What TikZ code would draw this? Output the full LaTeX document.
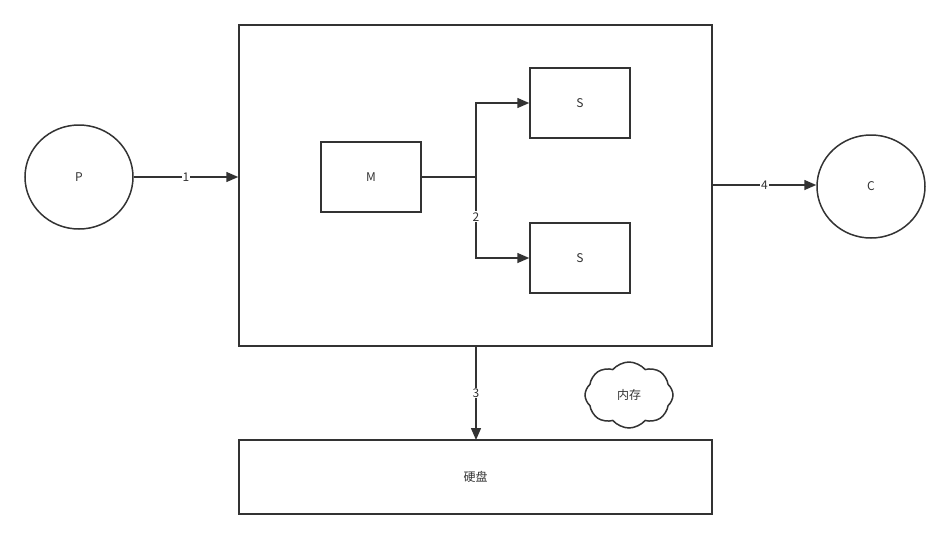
\documentclass[tikz,border=0pt]{standalone}
\usepackage{fontspec}
\setmainfont{Noto Sans CJK SC}
\usetikzlibrary{shapes.geometric,shapes.symbols,arrows.meta}
\definecolor{ln}{HTML}{333333}
\begin{document}
\begin{tikzpicture}[x=1pt,y=-1pt,
  every node/.style={font=\fontsize{12}{14}\selectfont, text=ln},
  box/.style={draw=ln, line width=1.5pt, rectangle, inner sep=0pt},
  ell/.style={draw=ln, line width=1.5pt, ellipse, inner sep=0pt},
  conn/.style={draw=ln, line width=1.5pt, -{Triangle[length=12pt,width=10pt]}},
  lab/.style={fill=white, inner sep=1pt}]
\useasboundingbox (0,0) rectangle (951,539);
\node[ell, minimum width=108pt, minimum height=104pt] (P) at (79,177) {P};
\node[ell, minimum width=108pt, minimum height=103pt] (C) at (871,186.5) {C};
\node[box, minimum width=473pt, minimum height=321pt] (B) at (475.5,185.5) {};
\node[box, minimum width=100pt, minimum height=70pt] (M) at (371,177) {M};
\node[box, minimum width=100pt, minimum height=70pt] (S1) at (580,103) {S};
\node[box, minimum width=100pt, minimum height=70pt] (S2) at (580,258) {S};
\node[box, minimum width=473pt, minimum height=74pt] (D) at (475.5,477) {硬盘};
\node[cloud, draw=ln, line width=1.5pt, cloud puffs=8, cloud puff arc=100, aspect=1.3, minimum width=88pt, minimum height=66pt, inner sep=0pt] (K) at (629,395) {内存};
\coordinate (J) at (476,177);
\draw[conn] (P.east) -- node[lab] {1} (B.west |- P.east);
\draw[conn] (B.east |- 0,185) -- node[lab] {4} (C.west |- 0,185);
\draw[conn] (476,346) -- node[lab] {3} (476,440);
\draw[draw=ln, line width=1.5pt] (M.east) -- (J);
\draw[conn] (J) -- (J |- S1.west) -- (S1.west);
\draw[conn] (J) -- node[lab, pos=0.49] {2} (J |- S2.west) -- (S2.west);
\end{tikzpicture}
\end{document}
